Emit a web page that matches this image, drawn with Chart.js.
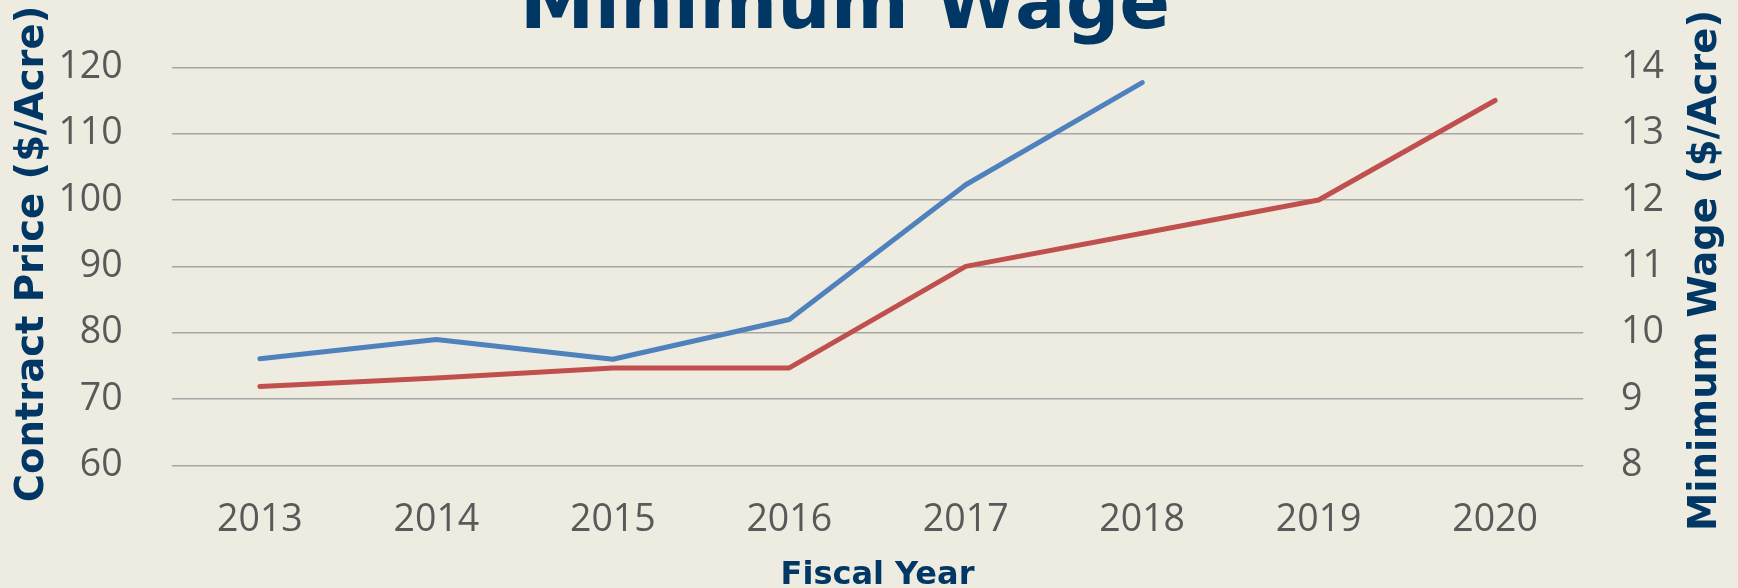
<!DOCTYPE html>
<html>
<head>
<meta charset="utf-8">
<script src="https://cdn.jsdelivr.net/npm/chart.js@4.4.1/dist/chart.umd.min.js"></script>
<style>
  html, body { margin: 0; padding: 0; background: #EEECE1; }
  #wrap { width: 1738px; height: 588px; position: relative; }
  canvas { display: block; }
</style>
</head>
<body>
<div id="wrap"><canvas id="chart" width="1738" height="588"></canvas></div>
<script>
// ---- data ----
const categories = ['2013', '2014', '2015', '2016', '2017', '2018', '2019', '2020'];
const contractPrice = [76.1, 79.0, 76.0, 82.0, 102.3, 117.7, null, null];
const minimumWage = [9.19, 9.32, 9.47, 9.47, 11.00, 11.50, 12.00, 13.50];
const leftTicks = [60, 70, 80, 90, 100, 110, 120];
const rightTicks = [8, 9, 10, 11, 12, 13, 14];
const chartTitle = 'Minimum Wage';
const leftTitle = 'Contract Price ($/Acre)';
const rightTitle = 'Minimum Wage ($/Acre)';
const xTitle = 'Fiscal Year';

const NAVY = '#003764';
const TICK = '#595959';
const TICK_FONT = { family: '"Open Sans"', size: 37.5 };

const bgPlugin = {
  id: 'bg',
  beforeDraw(chart) {
    const ctx = chart.ctx;
    ctx.save();
    ctx.fillStyle = '#EEECE1';
    ctx.fillRect(0, 0, chart.width, chart.height);
    ctx.restore();
  }
};

function drawRotated(ctx, text, x, y) {
  ctx.save();
  ctx.fillStyle = NAVY;
  ctx.font = 'bold 38.5px "DejaVu Sans"';
  ctx.textAlign = 'center';
  ctx.textBaseline = 'alphabetic';
  ctx.translate(x, y);
  ctx.rotate(-Math.PI / 2);
  ctx.fillText(text, 0, 0);
  ctx.restore();
}

const textPlugin = {
  id: 'texts',
  afterDraw(chart) {
    const ctx = chart.ctx;
    ctx.save();
    ctx.fillStyle = NAVY;
    ctx.font = 'bold 75px "DejaVu Sans"';
    ctx.textAlign = 'center';
    ctx.textBaseline = 'alphabetic';
    ctx.fillText(chartTitle, 845, 27.5);
    ctx.restore();
    // axis titles read bottom-to-top
    drawRotated(ctx, leftTitle, 42.7, 254);
    drawRotated(ctx, rightTitle, 1716, 270.5);
  }
};

new Chart(document.getElementById('chart'), {
  type: 'line',
  data: {
    labels: categories,
    datasets: [
      {
        label: 'Contract Price',
        data: contractPrice,
        yAxisID: 'y',
        borderColor: '#4F81BD',
        backgroundColor: '#4F81BD',
        borderWidth: 5,
        pointRadius: 0,
        tension: 0,
        borderCapStyle: 'round',
        borderJoinStyle: 'round',
        fill: false
      },
      {
        label: 'Minimum Wage',
        data: minimumWage,
        yAxisID: 'y1',
        borderColor: '#C0504D',
        backgroundColor: '#C0504D',
        borderWidth: 5,
        pointRadius: 0,
        tension: 0,
        borderCapStyle: 'round',
        borderJoinStyle: 'round',
        fill: false
      }
    ]
  },
  options: {
    responsive: false,
    animation: false,
    devicePixelRatio: 1,
    layout: { padding: { top: 67.3, left: 0, right: 0, bottom: 0 } },
    plugins: {
      legend: { display: false },
      title: { display: false },
      tooltip: { enabled: false }
    },
    scales: {
      x: {
        type: 'category',
        offset: true,
        grid: { display: false, drawTicks: false },
        border: { display: false },
        ticks: {
          color: TICK,
          font: TICK_FONT,
          padding: 32,
          maxRotation: 0,
          autoSkip: false
        },
        title: {
          display: true,
          text: xTitle,
          color: NAVY,
          font: { family: '"DejaVu Sans"', size: 32, weight: 'bold' },
          padding: { top: 0, bottom: -7 }
        },
        afterFit(s) { s.height = 588 - 465.5; }
      },
      y: {
        position: 'left',
        min: 60,
        max: 120,
        afterBuildTicks(s) { s.ticks = leftTicks.map(v => ({ value: v })); },
        grid: {
          color: '#A6A6A6',
          lineWidth: 1.5,
          drawTicks: true,
          tickLength: 49,
          tickColor: 'rgba(0,0,0,0)'
        },
        border: { display: false },
        ticks: {
          color: TICK,
          font: TICK_FONT,
          padding: 0
        },
        title: { display: false, text: leftTitle },
        afterFit(s) { s.width = 171.7; }
      },
      y1: {
        position: 'right',
        min: 8,
        max: 14,
        afterBuildTicks(s) { s.ticks = rightTicks.map(v => ({ value: v })); },
        grid: {
          display: true,
          drawOnChartArea: false,
          drawTicks: true,
          tickLength: 37.7,
          tickColor: 'rgba(0,0,0,0)',
          color: 'rgba(0,0,0,0)'
        },
        border: { display: false },
        ticks: {
          color: TICK,
          font: TICK_FONT,
          padding: 0
        },
        title: { display: false, text: rightTitle },
        afterFit(s) { s.width = 1738 - 1583.3; }
      }
    }
  },
  plugins: [bgPlugin, textPlugin]
});
</script>
</body>
</html>
